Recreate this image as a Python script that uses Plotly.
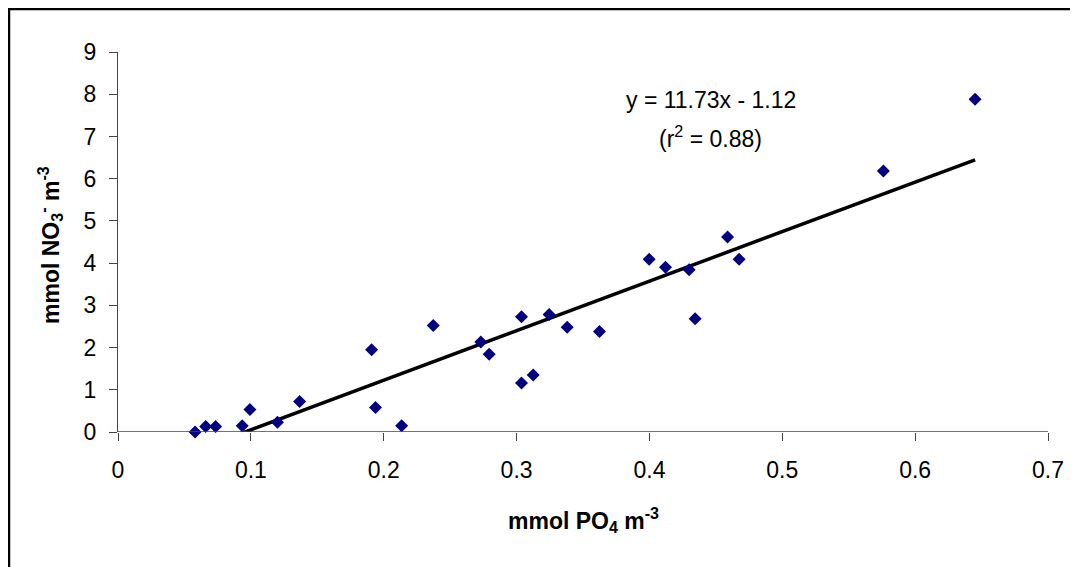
import plotly.graph_objects as go

# Data
po4 = [0.058, 0.066, 0.0735, 0.0935, 0.0993, 0.120, 0.1367, 0.1909, 0.1938, 0.2135,
       0.2373, 0.2731, 0.2794, 0.3037, 0.3037, 0.3125, 0.3245, 0.3381, 0.3624, 0.3998,
       0.4121, 0.4299, 0.4344, 0.4588, 0.4675, 0.5761, 0.6451]
no3 = [0.0, 0.13, 0.13, 0.15, 0.53, 0.23, 0.72, 1.95, 0.58, 0.15,
       2.52, 2.13, 1.84, 1.16, 2.73, 1.35, 2.78, 2.48, 2.38, 4.09,
       3.90, 3.84, 2.68, 4.62, 4.09, 6.18, 7.88]
slope = 11.73
intercept = -1.12
r2 = 0.88

x_ticks = [0, 0.1, 0.2, 0.3, 0.4, 0.5, 0.6, 0.7]
y_ticks = [0, 1, 2, 3, 4, 5, 6, 7, 8, 9]

FONT = "Arial, Liberation Sans, sans-serif"
FS = 23

# page offset (browser body margin) compensation
OFF = 8
W, H = 1078 - OFF, 567 - OFF
L, R_EDGE, T, B_EDGE = 118 - OFF, 1048 - OFF, 52 - OFF, 432 - OFF
PW, PH = R_EDGE - L, B_EDGE - T


def px_x(p):
    return (p - OFF - L) / PW


def px_y(p):
    return (B_EDGE - (p - OFF)) / PH


fig = go.Figure()

x_line = [min(po4), max(po4)]
y_line = [slope * v + intercept for v in x_line]
fig.add_trace(go.Scatter(x=x_line, y=y_line, mode="lines",
                         line=dict(color="black", width=3.5), showlegend=False,
                         hoverinfo="skip"))
fig.add_trace(go.Scatter(x=po4, y=no3, mode="markers",
                         marker=dict(symbol="diamond", size=10, color="#000080",
                                     line=dict(width=0)),
                         showlegend=False, cliponaxis=False))

fig.update_layout(
    width=W, height=H,
    margin=dict(l=L, r=W - R_EDGE, t=T, b=H - B_EDGE, pad=0),
    paper_bgcolor="white", plot_bgcolor="white",
    font=dict(family=FONT, size=FS, color="black"),
    xaxis=dict(range=[0, 0.7], tickvals=x_ticks, ticktext=[f"{v:g}" for v in x_ticks],
               showgrid=False, zeroline=False, showline=False,
               ticks="outside", ticklen=8, tickcolor="#444", tickwidth=1.3,
               ticklabelstandoff=9, tickfont=dict(family=FONT, size=FS, color="black")),
    yaxis=dict(range=[0, 9], tickvals=y_ticks, showgrid=False, zeroline=False,
               showline=True, linecolor="#444", linewidth=1.3,
               ticks="outside", ticklen=8, tickcolor="#444", tickwidth=1.3,
               ticklabelstandoff=8, tickfont=dict(family=FONT, size=FS, color="black")),
)

# x axis line at y=0
fig.add_shape(type="line", xref="paper", yref="y", x0=0, x1=1, y0=0, y1=0,
              line=dict(color="#444", width=1.3))

# outer frame
fig.add_shape(type="rect", xref="paper", yref="paper",
              x0=px_x(9), x1=px_x(1100), y0=px_y(600), y1=px_y(9),
              line=dict(color="black", width=2.5), fillcolor="rgba(0,0,0,0)")

fig.add_annotation(x=0.446, y=7.86, xref="x", yref="y", showarrow=False,
                   xanchor="center", yanchor="middle",
                   text=f"y = {slope}x - {abs(intercept)}",
                   font=dict(family=FONT, size=FS, color="black"))
fig.add_annotation(x=0.446, y=6.98, xref="x", yref="y", showarrow=False,
                   xanchor="center", yanchor="middle",
                   text=f"(r<sup>2</sup> = {r2})",
                   font=dict(family=FONT, size=FS, color="black"))

fig.add_annotation(x=0.5, y=px_y(520), xref="paper", yref="paper",
                   showarrow=False, xanchor="center", yanchor="middle",
                   text="<b>mmol PO<sub>4</sub> m<sup>-3</sup></b>",
                   font=dict(family=FONT, size=FS, color="black"))
fig.add_annotation(x=px_x(50), y=px_y(245), xref="paper", yref="paper",
                   showarrow=False, textangle=-90, xanchor="center", yanchor="middle",
                   text="<b>mmol NO<sub>3</sub><sup>-</sup> m<sup>-3</sup></b>",
                   font=dict(family=FONT, size=FS, color="black"))

fig.write_html("out.html")
